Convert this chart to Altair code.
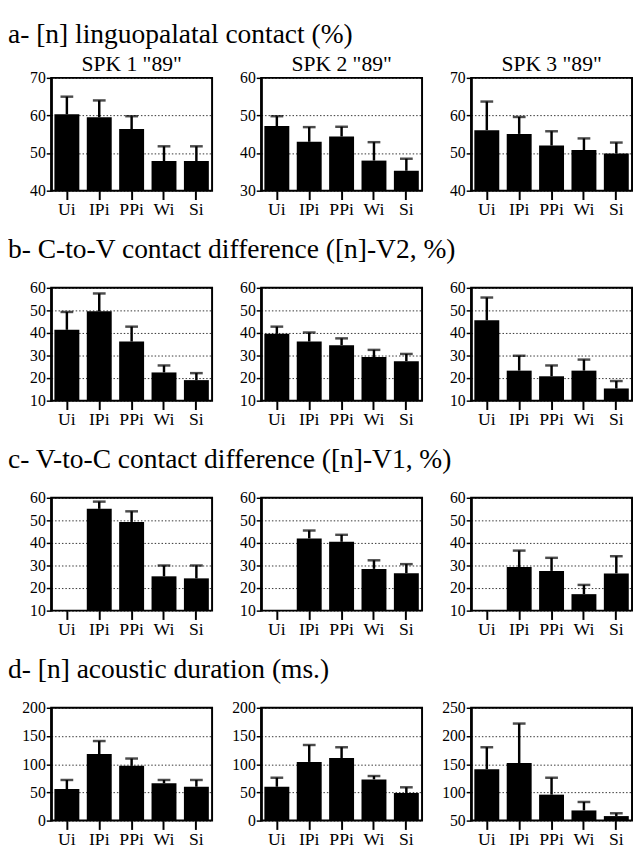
import altair as alt
import pandas as pd

FONT = "Liberation Serif"

categories = ["Ui", "IPi", "PPi", "Wi", "Si"]
speakers = ['SPK 1 "89"', 'SPK 2 "89"', 'SPK 3 "89"']

row_titles = [
    "a- [n] linguopalatal contact (%)",
    "b- C-to-V contact difference ([n]-V2, %)",
    "c- V-to-C contact difference ([n]-V1, %)",
    "d- [n] acoustic duration (ms.)",
]

# a- linguopalatal contact
a_mean = [[60.3, 59.5, 56.4, 47.9, 47.9],
          [47.2, 43.0, 44.4, 38.0, 35.3],
          [56.1, 55.1, 52.0, 50.8, 49.9]]
a_err = [[65.0, 64.0, 59.8, 51.8, 51.8],
         [49.8, 46.9, 47.0, 42.9, 38.5],
         [63.7, 59.6, 55.8, 53.9, 52.8]]
a_dom = [(40, 70), (30, 60), (40, 70)]

# b- C-to-V contact difference
b_mean = [[41.4, 49.6, 36.2, 22.5, 19.1],
          [39.6, 36.2, 34.6, 29.3, 27.5],
          [45.6, 23.3, 20.8, 23.3, 15.4]]
b_err = [[49.3, 57.5, 42.8, 25.6, 22.2],
         [42.8, 40.2, 37.6, 32.5, 30.7],
         [55.7, 29.9, 25.6, 28.2, 18.7]]
b_dom = [(10, 60), (10, 60), (10, 60)]

# c- V-to-C contact difference (no Ui value)
c_mean = [[None, 55.1, 49.3, 25.2, 24.3],
          [None, 42.0, 40.5, 28.5, 26.6],
          [None, 29.3, 27.6, 17.3, 26.5]]
c_err = [[None, 58.3, 54.0, 30.0, 30.0],
         [None, 45.5, 43.6, 32.3, 30.6],
         [None, 36.6, 33.4, 21.4, 34.1]]
c_dom = [(10, 60), (10, 60), (10, 60)]

# d- acoustic duration
d_mean = [[56, 118, 97, 66, 60],
          [60, 104, 111, 73, 49],
          [141, 152, 96, 68, 58]]
d_err = [[72, 141, 110, 72, 72],
         [76, 134, 130, 79, 59],
         [180, 222, 126, 83, 63]]
d_dom = [(0, 200), (0, 200), (50, 250)]

rows = [
    (a_mean, a_err, a_dom, 10),
    (b_mean, b_err, b_dom, 10),
    (c_mean, c_err, c_dom, 10),
    (d_mean, d_err, d_dom, 50),
]

W, H = 164, 115


def panel(means, errs, lo, hi, step, title=None):
    df = pd.DataFrame({"cat": categories, "mean": means, "err": errs}).dropna()
    xs = alt.X("cat:N", sort=categories,
               scale=alt.Scale(domain=categories, paddingInner=0.23, paddingOuter=0.1),
               axis=alt.Axis(title=None, labelAngle=0, tickSize=9, tickWidth=2,
                             domain=False, grid=False, labelFontSize=18, labelPadding=1,
                             labelFont=FONT))
    yscale = alt.Scale(domain=[lo, hi], nice=False, zero=False)
    yaxis = alt.Axis(title=None, values=list(range(lo, hi + 1, step)), tickSize=5,
                     tickWidth=1.5, domainWidth=2.5, labelFontSize=16, labelPadding=1,
                     labelOverlap=False, labelFlush=False, labelFont=FONT,
                     grid=True, gridDash=[1.5, 2], gridColor="black", gridWidth=1,
                     gridOpacity=0.8, minExtent=43, maxExtent=43)
    base = alt.Chart(df)
    bars = base.mark_bar(color="black").encode(
        x=xs, y=alt.Y("mean:Q", scale=yscale, axis=yaxis), y2=alt.Y2Datum(lo))
    rule = base.mark_rule(color="black", strokeWidth=2.5).encode(
        x=xs, y=alt.Y("mean:Q", scale=yscale, axis=yaxis), y2="err:Q")
    cap = base.mark_tick(color="black", thickness=2.5, size=13).encode(
        x=xs, y=alt.Y("err:Q", scale=yscale, axis=yaxis))
    props = dict(width=W, height=H)
    if title:
        props["title"] = alt.TitleParams(title, fontSize=22, font=FONT, fontWeight="normal",
                                         offset=-6, color="black")
    return alt.layer(bars, rule, cap).properties(**props)


row_charts = []
for r, (means, errs, doms, step) in enumerate(rows):
    panels = []
    for s in range(3):
        lo, hi = doms[s]
        panels.append(panel(means[s], errs[s], lo, hi, step,
                            title=speakers[s] if r == 0 else None))
    row_charts.append(alt.hconcat(*panels, spacing=5).properties(
        title=alt.TitleParams(row_titles[r], anchor="start", fontSize=28, font=FONT,
                              fontWeight="normal", offset=4 if r == 0 else 15,
                              color="black")))

chart = alt.vconcat(*row_charts, spacing=18).properties(
    padding={"left": 0, "top": 5, "right": 0, "bottom": 5}
).configure(font=FONT).configure_view(stroke="black", strokeWidth=2).configure_axis(
    labelFont=FONT, labelColor="black", tickColor="black", domainColor="black"
).configure_title(font=FONT)

chart.save("out.html", embed_options={"renderer": "svg", "actions": False})
